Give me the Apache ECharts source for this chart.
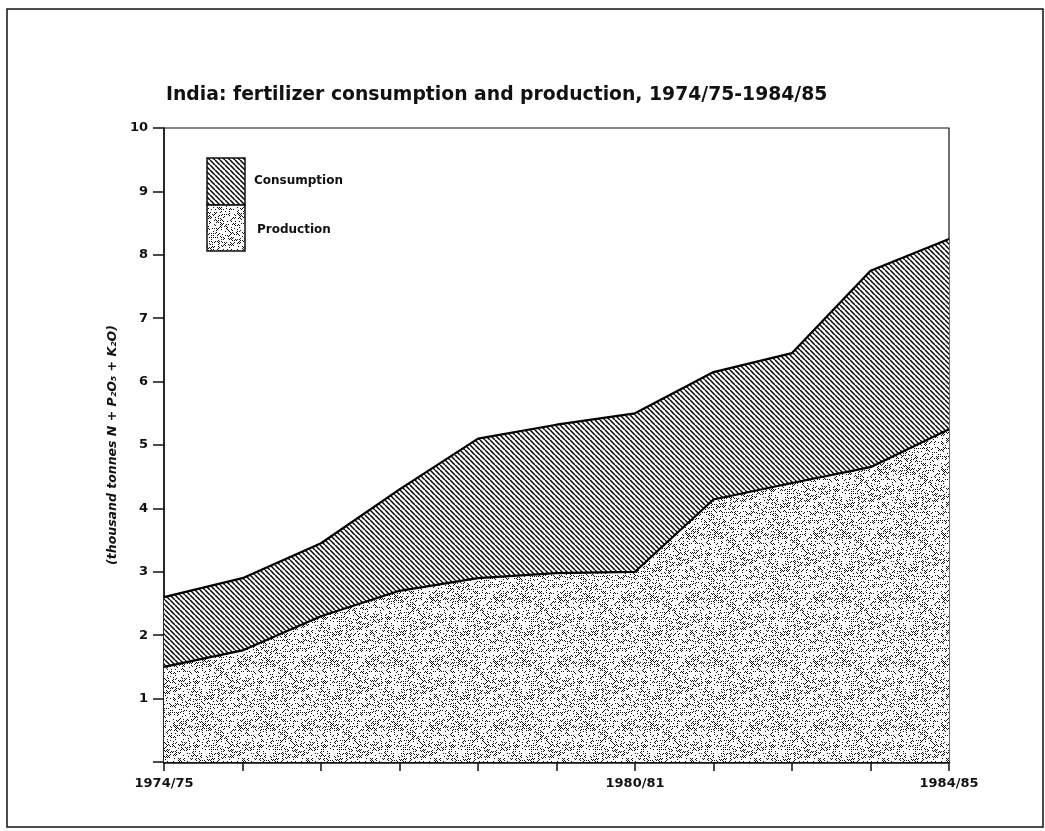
<!DOCTYPE html>
<html>
<head>
<meta charset="utf-8">
<title>India fertilizer</title>
<script src="https://cdn.jsdelivr.net/npm/echarts@6/dist/echarts.min.js"></script>
<style>
  html, body { margin: 0; padding: 0; background: #fff; }
  #chart { width: 1045px; height: 831px; }
</style>
</head>
<body>
<div id="chart"></div>
<script>
// data (thousand tonnes N + P2O5 + K2O)
const years = ['1974/75', '1975/76', '1976/77', '1977/78', '1978/79', '1979/80',
  '1980/81', '1981/82', '1982/83', '1983/84', '1984/85']
const consumption = [2.6, 2.9, 3.45, 4.3, 5.1, 5.32, 5.5, 6.15, 6.45, 7.75, 8.25]
const production = [1.5, 1.76, 2.3, 2.7, 2.9, 2.98, 3.0, 4.14, 4.4, 4.65, 5.25]
const labelledYears = ['1974/75', '1980/81', '1984/85']

// hatch texture for consumption
function hatchPattern() {
  const s = 5
  const c = document.createElement('canvas')
  c.width = s; c.height = s
  const g = c.getContext('2d')
  g.fillStyle = '#fff'
  g.fillRect(0, 0, s, s)
  g.strokeStyle = '#000'
  g.lineWidth = 1.5
  for (let i = -1; i <= 1; i++) {
    g.beginPath()
    g.moveTo(i * s, 0)
    g.lineTo(i * s + s, s)
    g.stroke()
  }
  return c
}

// stipple texture for production: fixed dot layout from an integer hash
function stipplePattern() {
  const s = 64
  const c = document.createElement('canvas')
  c.width = s; c.height = s
  const g = c.getContext('2d')
  g.fillStyle = '#fff'
  g.fillRect(0, 0, s, s)
  g.fillStyle = '#111'
  for (let y = 0; y < s; y++) {
    for (let x = 0; x < s; x++) {
      if ((x + y) % 2 !== 0) continue
      let h = (x * 374761393 + y * 668265263) | 0
      h = Math.imul(h ^ (h >>> 13), 1274126177)
      h = (h ^ (h >>> 16)) >>> 0
      if (h % 100 < 34) g.fillRect(x, y, 1, 1)
    }
  }
  return c
}

const hatch = { image: hatchPattern(), repeat: 'repeat' }
const stipple = { image: stipplePattern(), repeat: 'repeat' }

const chart = echarts.init(document.getElementById('chart'))
const font = 'DejaVu Sans, Verdana, sans-serif'

chart.setOption({
  backgroundColor: '#fff',
  animation: false,
  title: {
    text: 'India: fertilizer consumption and production, 1974/75-1984/85',
    left: 161,
    top: 81,
    textStyle: { fontFamily: font, fontSize: 18.8, fontWeight: 'bold', color: '#111' },
  },
  grid: {
    left: 164,
    right: 96,
    top: 128,
    bottom: 69,
    show: true,
    borderColor: '#111',
    borderWidth: 1.2,
    backgroundColor: 'transparent',
  },
  xAxis: {
    type: 'category',
    data: years,
    boundaryGap: false,
    axisLine: { lineStyle: { color: '#111', width: 2.5 } },
    axisTick: { show: true, interval: 0, length: 9, lineStyle: { color: '#111', width: 1.5 } },
    axisLabel: {
      interval: 0,
      formatter: v => (labelledYears.includes(v) ? v : ''),
      margin: 15,
      fontFamily: font,
      fontSize: 13,
      fontWeight: 'bold',
      color: '#111',
    },
    splitLine: { show: false },
  },
  yAxis: {
    type: 'value',
    min: 0,
    max: 10,
    interval: 1,
    name: '(thousand tonnes N + P₂O₅ + K₂O)',
    nameLocation: 'middle',
    nameGap: 44,
    nameTextStyle: {
      fontFamily: font, fontSize: 12.5, fontWeight: 'bold', fontStyle: 'italic', color: '#111',
    },
    axisLine: { show: true, lineStyle: { color: '#111', width: 1.5 } },
    axisTick: { show: true, length: 11, lineStyle: { color: '#111', width: 1.5 } },
    axisLabel: {
      formatter: v => (v === 0 ? '' : String(v)),
      margin: 16,
      fontFamily: font,
      fontSize: 13,
      fontWeight: 'bold',
      color: '#111',
    },
    splitLine: { show: false },
  },
  series: [
    {
      name: 'Consumption',
      type: 'line',
      data: consumption,
      symbol: 'none',
      lineStyle: { color: '#000', width: 2.2 },
      areaStyle: { color: hatch, opacity: 1 },
      z: 2,
    },
    {
      name: 'Production',
      type: 'line',
      data: production,
      symbol: 'none',
      lineStyle: { color: '#000', width: 2.2 },
      areaStyle: { color: stipple, opacity: 1 },
      z: 3,
    },
  ],
  graphic: [
    // outer frame of the figure
    {
      type: 'rect',
      shape: { x: 7, y: 9, width: 1036, height: 818 },
      style: { fill: 'none', stroke: '#111', lineWidth: 1.5 },
    },
    // legend boxes
    {
      type: 'rect',
      shape: { x: 207, y: 158, width: 38, height: 47 },
      style: { fill: hatch, stroke: '#111', lineWidth: 1.5 },
    },
    {
      type: 'rect',
      shape: { x: 207, y: 205, width: 38, height: 46 },
      style: { fill: stipple, stroke: '#111', lineWidth: 1.5 },
    },
    {
      type: 'text',
      left: 254,
      top: 175,
      style: { text: 'Consumption', font: 'bold 12px DejaVu Sans, Verdana, sans-serif', fill: '#111' },
    },
    {
      type: 'text',
      left: 257,
      top: 224,
      style: { text: 'Production', font: 'bold 12px DejaVu Sans, Verdana, sans-serif', fill: '#111' },
    },
  ],
})
</script>
</body>
</html>
